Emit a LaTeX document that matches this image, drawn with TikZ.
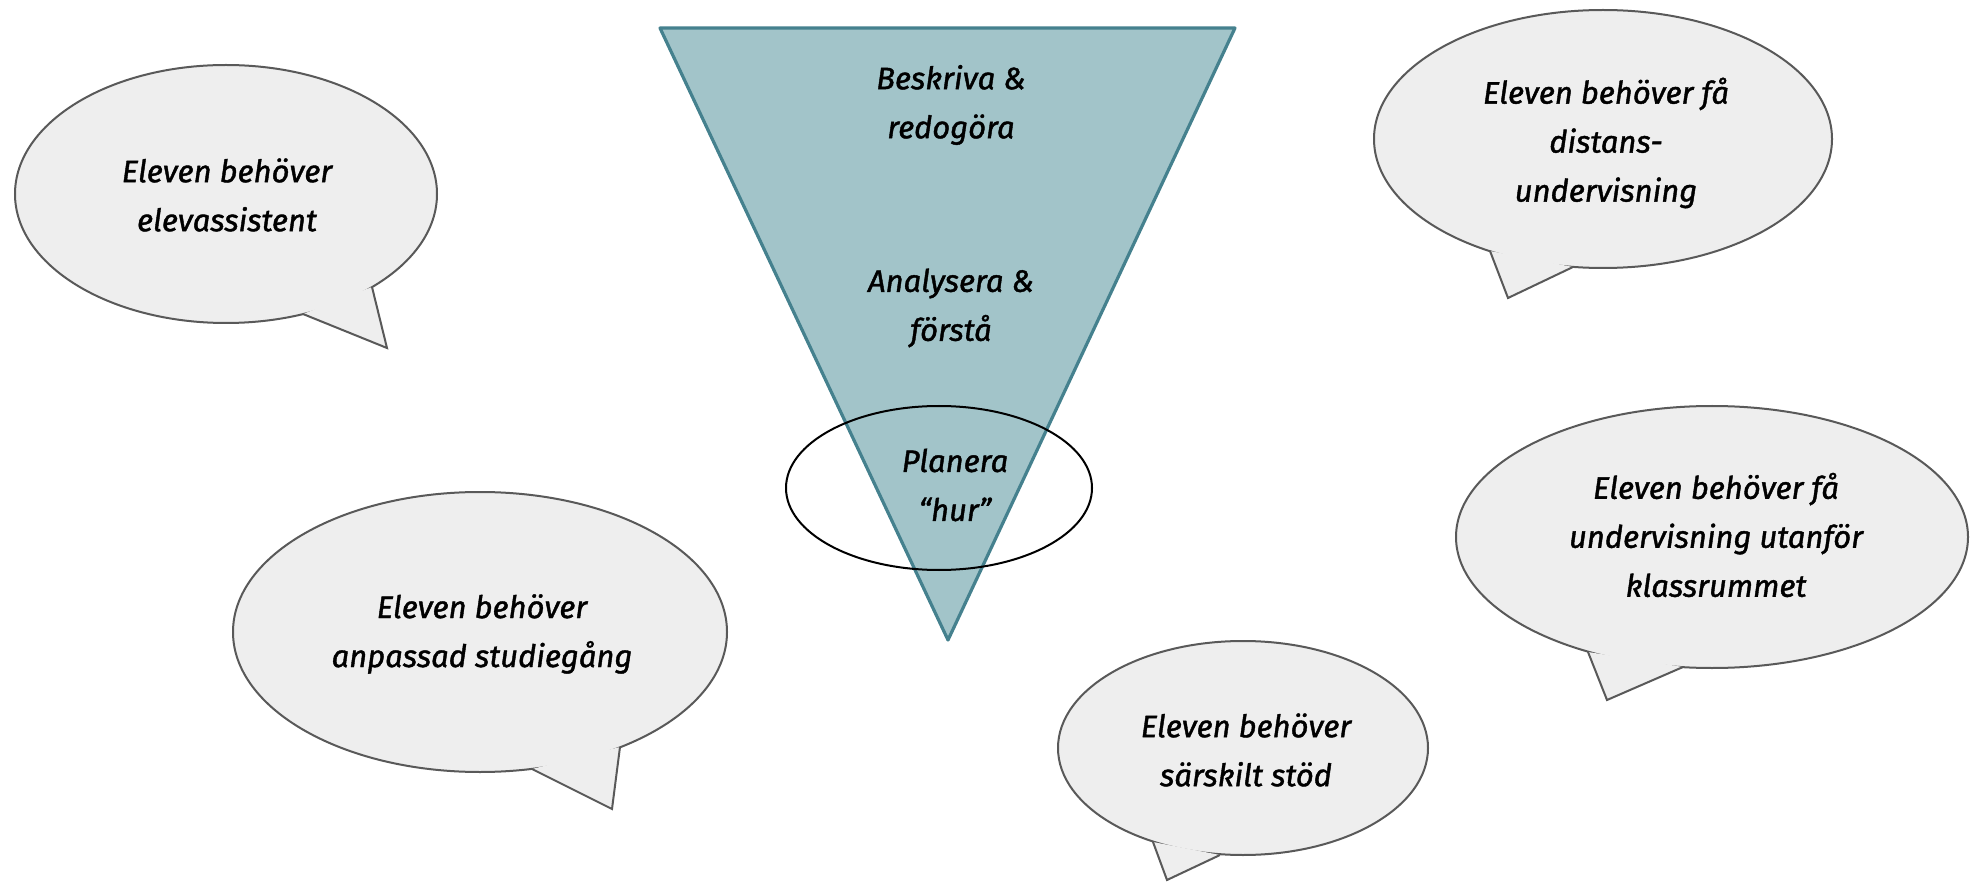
\documentclass[tikz,border=0pt]{standalone}
\usepackage{fontspec}
\setmainfont{Fira Sans}
\newfontfamily\handfont{Fira Sans Italic}[FakeBold=1.3]
\definecolor{bubblefill}{HTML}{EEEEEE}
\definecolor{bubbleline}{HTML}{595959}
\definecolor{trifill}{HTML}{A2C4C9}
\definecolor{triline}{HTML}{45818E}
\begin{document}
\begin{tikzpicture}[x=1pt,y=-1pt,
  bubble/.style={draw=bubbleline, line width=2pt, fill=bubblefill},
  tailfill/.style={fill=bubblefill},
  tailline/.style={draw=bubbleline, line width=2pt, line join=miter},
  tri/.style={draw=triline, fill=trifill, line width=3.2pt, line join=round},
  focus/.style={draw=black, line width=2pt},
  txt/.style={font=\fontsize{31}{49}\selectfont\handfont, align=center, inner sep=0pt, text=black},
]
\useasboundingbox[fill=white] (0,0) rectangle (1982,882);

% triangle
\coordinate (t1) at (660,28);
\coordinate (t2) at (1235,28);
\coordinate (t3) at (948,640);
\draw[tri] (t1) -- (t2) -- (t3) -- cycle;
\draw[focus] (939,488) ellipse [x radius=153pt, y radius=82pt];
\node[txt] (beskriva) at (951,105) {Beskriva \&\\redogöra};
\node[txt] (analysera) at (951,308) {Analysera \&\\förstå};
\node[txt] (planera) at (955,485) {Planera\\“hur”};

% bubble 1
\draw[bubble] (226,194) ellipse [x radius=211pt, y radius=129pt];
\coordinate (a1) at (303,314); \coordinate (a2) at (387,348); \coordinate (a3) at (372,287);
\fill[tailfill] (a1) -- (a2) -- (a3) -- cycle;
\draw[tailline] (a1) -- (a2) -- (a3);
\node[txt] (b1) at (227,195) {Eleven behöver\\elevassistent};

% bubble 2
\draw[bubble] (1603,139) ellipse [x radius=229pt, y radius=129pt];
\coordinate (c1) at (1490,251); \coordinate (c2) at (1508,298); \coordinate (c3) at (1573,267);
\fill[tailfill] (c1) -- (c2) -- (c3) -- cycle;
\draw[tailline] (c1) -- (c2) -- (c3);
\node[txt] (b2) at (1606,143) {Eleven behöver få\\distans-\\undervisning};

% bubble 3
\draw[bubble] (1712,537) ellipse [x radius=256pt, y radius=131pt];
\coordinate (d1) at (1588,652); \coordinate (d2) at (1607,700); \coordinate (d3) at (1683,667);
\fill[tailfill] (d1) -- (d2) -- (d3) -- cycle;
\draw[tailline] (d1) -- (d2) -- (d3);
\node[txt] (b3) at (1716,535) {Eleven behöver få\\undervisning utanför\\klassrummet};

% bubble 4
\draw[bubble] (480,632) ellipse [x radius=247pt, y radius=140pt];
\coordinate (e1) at (532,769); \coordinate (e2) at (612,809); \coordinate (e3) at (620,747);
\fill[tailfill] (e1) -- (e2) -- (e3) -- cycle;
\draw[tailline] (e1) -- (e2) -- (e3);
\node[txt] (b4) at (482,634) {Eleven behöver\\anpassad studiegång};

% bubble 5
\draw[bubble] (1243,748) ellipse [x radius=185pt, y radius=107pt];
\coordinate (f1) at (1153,842); \coordinate (f2) at (1167,880); \coordinate (f3) at (1220,855);
\fill[tailfill] (f1) -- (f2) -- (f3) -- cycle;
\draw[tailline] (f1) -- (f2) -- (f3);
\node[txt] (b5) at (1246,750) {Eleven behöver\\särskilt stöd};
\end{tikzpicture}
\end{document}
